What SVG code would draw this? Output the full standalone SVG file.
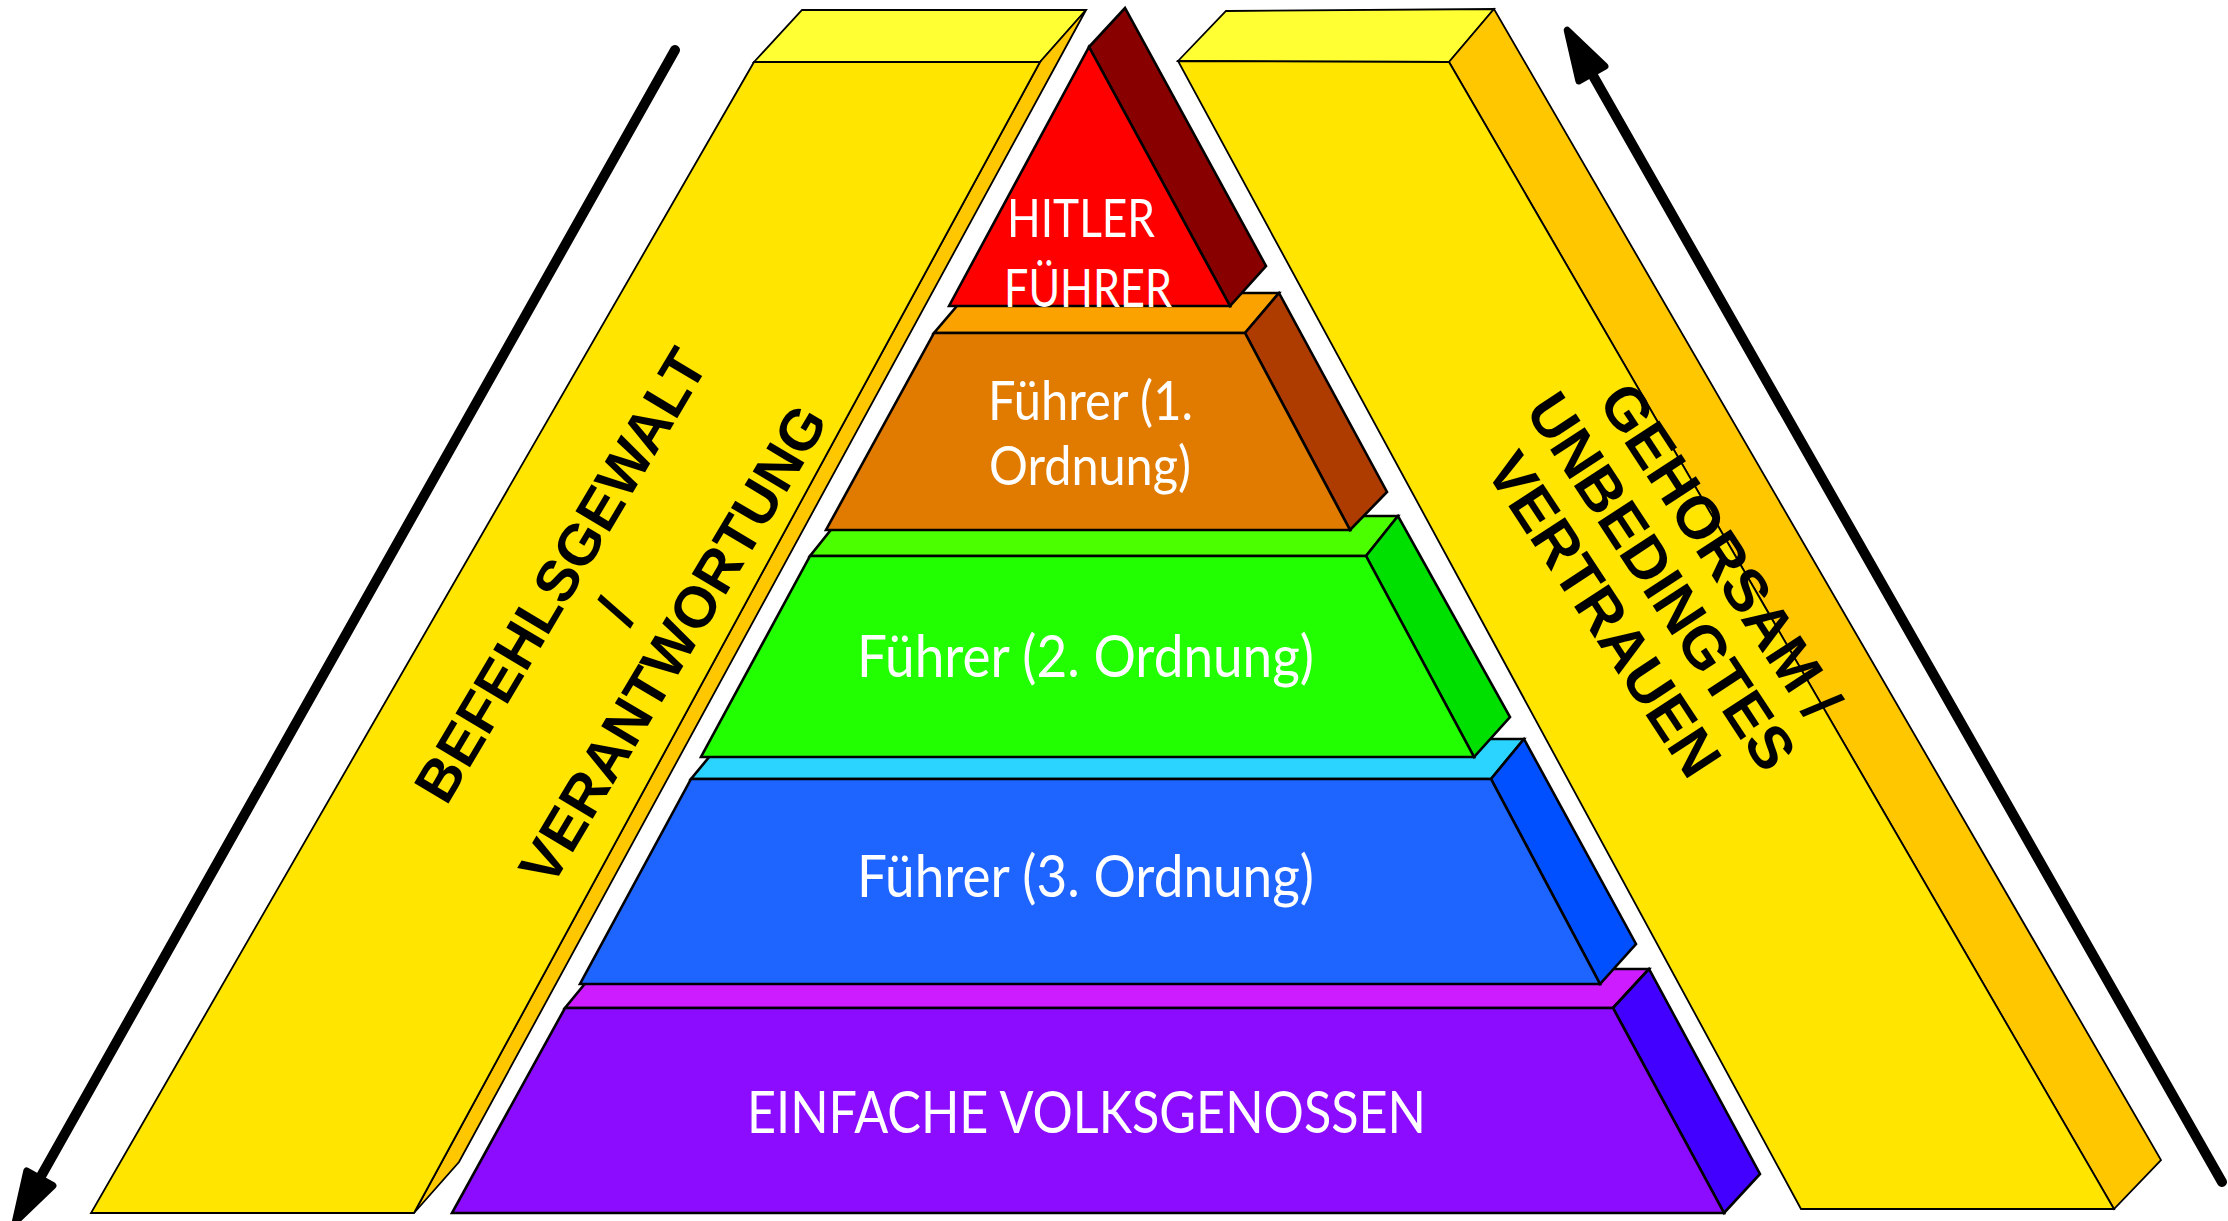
<svg xmlns="http://www.w3.org/2000/svg" width="2228" height="1221" viewBox="0 0 2228 1221">
<defs>
<style>
.sl{stroke:#000;stroke-width:1.8;stroke-linejoin:miter}
.py{stroke:#000;stroke-width:2.6;stroke-linejoin:miter}
.ytop{fill:#FFFF33}.yfr{fill:#FFE500}.ysd{fill:#FFC700}
.wt{font-family:Lato,"Open Sans","Liberation Sans",sans-serif;fill:#fff}
.bt{font-family:"Liberation Sans",Arial,sans-serif;font-weight:bold;fill:#000;text-anchor:middle}
.arr{stroke:#000;stroke-width:10;fill:none;stroke-linecap:round;marker-end:url(#ah)}
</style>
<marker id="ah" markerUnits="userSpaceOnUse" orient="auto" refX="0" refY="0" markerWidth="100" markerHeight="100" overflow="visible">
<path d="M32,0 L-18,-15 L-18,15 Z" fill="#000" stroke="#000" stroke-width="7" stroke-linejoin="round"/>
</marker>
</defs>
<rect width="2228" height="1221" fill="#fff"/>

<g id="slab-left">
<polygon class="sl ytop" points="754,62 802,10 1086,10 1040,62"/>
<polygon class="sl ysd" points="1040,62 1086,10 459,1162 414,1213"/>
<polygon class="sl yfr" points="754,62 1040,62 414,1213 91,1213"/>
<g class="bt" font-size="58" transform="translate(615,611) rotate(-59.3)">
<text x="3" y="-45">BEFEHLSGEWALT</text>
<text x="0" y="21">/</text>
<text x="1" y="87">VERANTWORTUNG</text>
</g>
</g>

<g id="slab-right">
<polygon class="sl ytop" points="1178,61 1226,11 1494,9 1449,62"/>
<polygon class="sl ysd" points="1449,62 1494,9 2161,1160 2114,1209"/>
<polygon class="sl yfr" points="1178,61 1449,62 2114,1209 1801,1209"/>
<g class="bt" font-size="60" transform="translate(1662,581) rotate(56.7)">
<text x="7" y="-44.5">GEHORSAM /</text>
<text x="0" y="21.5">UNBEDINGTES</text>
<text x="-4" y="87.5">VERTRAUEN</text>
</g>
</g>

<g id="tier-volksgenossen">
<polygon class="py" fill="#CC1CFF" points="565,1008 1613,1008 1649,969 597,969"/>
<polygon class="py" fill="#4100FF" points="1613,1008 1649,969 1760,1174 1724,1213"/>
<polygon class="py" fill="#8C0CFF" points="565,1008 1613,1008 1724,1213 452,1213"/>
<text class="wt" x="747" y="1133" font-size="58" textLength="679" lengthAdjust="spacingAndGlyphs">EINFACHE VOLKSGENOSSEN</text>
</g>

<g id="tier-fuehrer-3">
<polygon class="py" fill="#2AD4FF" points="691,779 1491,779 1524,739 724,739"/>
<polygon class="py" fill="#0050FF" points="1491,779 1524,739 1636,944 1600,984"/>
<polygon class="py" fill="#1E64FF" points="691,779 1491,779 1600,984 580,984"/>
<text class="wt" x="857" y="897" font-size="58" textLength="457" lengthAdjust="spacingAndGlyphs">Führer (3. Ordnung)</text>
</g>

<g id="tier-fuehrer-2">
<polygon class="py" fill="#4CFF00" points="810,556 1366,556 1398,516 842,516"/>
<polygon class="py" fill="#00E000" points="1366,556 1398,516 1510,717 1474,757"/>
<polygon class="py" fill="#22FF00" points="810,556 1366,556 1474,757 701,757"/>
<text class="wt" x="857" y="677" font-size="58" textLength="457" lengthAdjust="spacingAndGlyphs">Führer (2. Ordnung)</text>
</g>

<g id="tier-fuehrer-1">
<polygon class="py" fill="#FBA100" points="934,333 1245,333 1279,293 968,293"/>
<polygon class="py" fill="#AE3B00" points="1245,333 1279,293 1387,492 1350,530"/>
<polygon class="py" fill="#E07B00" points="934,333 1245,333 1350,530 826,530"/>
<text class="wt" x="988" y="420" font-size="54" textLength="205" lengthAdjust="spacingAndGlyphs">Führer (1.</text>
<text class="wt" x="989" y="485" font-size="54" textLength="202" lengthAdjust="spacingAndGlyphs">Ordnung)</text>
</g>

<g id="tier-hitler">
<polygon class="py" fill="#880000" points="1089,47 1125,8 1266,266 1230,306"/>
<polygon class="py" fill="#FF0000" points="949,306 1089,47 1230,306"/>
<text class="wt" x="1007" y="237" font-size="53" textLength="148" lengthAdjust="spacingAndGlyphs">HITLER</text>
<text class="wt" x="1004" y="307" font-size="53" textLength="168" lengthAdjust="spacingAndGlyphs">FÜHRER</text>
</g>

<g id="connectors">
<line class="arr" x1="675" y1="50" x2="31" y2="1194"/>
<line class="arr" x1="2222" y1="1182" x2="1583" y2="58"/>
</g>
</svg>
